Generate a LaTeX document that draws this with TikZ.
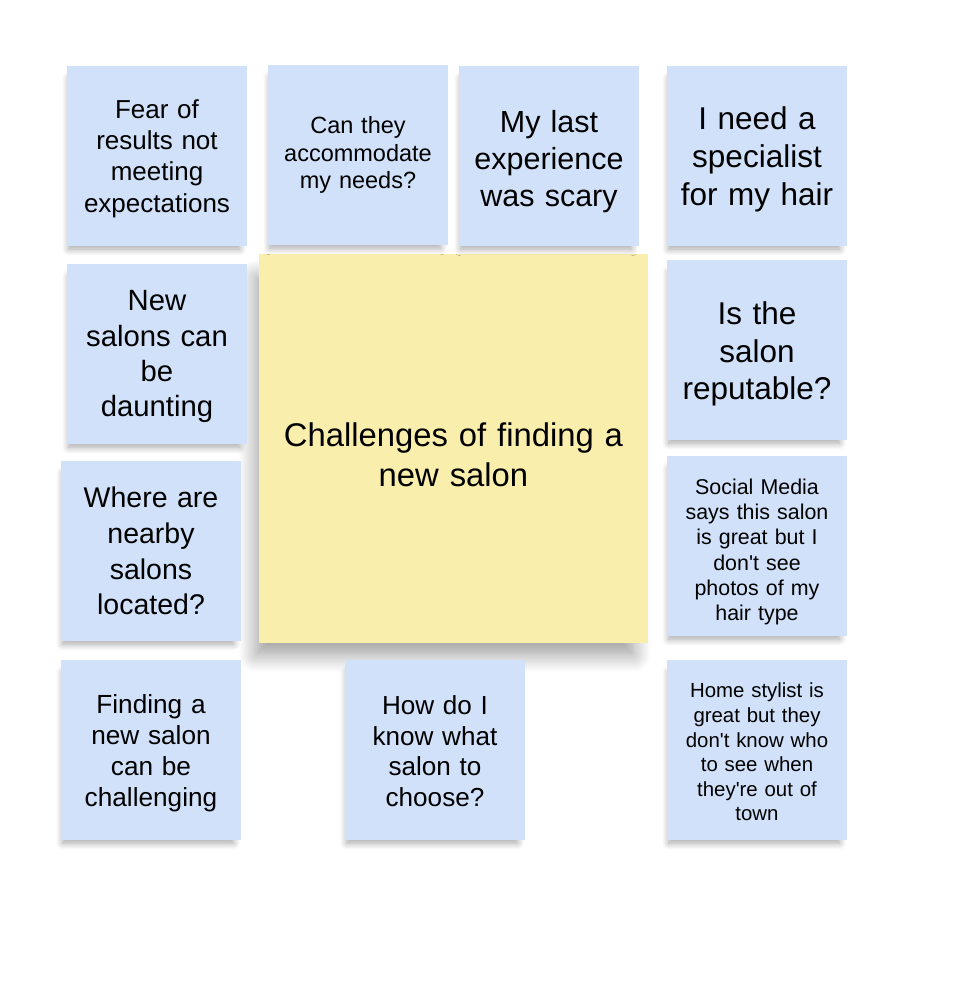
\documentclass[tikz,border=0pt]{standalone}
\usepackage{fontspec}
\setmainfont{Liberation Sans}[Ligatures=TeXOff]
\usetikzlibrary{shadows.blur}
\definecolor{noteblue}{HTML}{D0E1F9}
\definecolor{noteyellow}{HTML}{FAEEAD}
\tikzset{
  note/.style={fill=noteblue, minimum width=180pt, minimum height=180pt,
               text width=176pt, align=center, inner sep=0pt,
               blur shadow={shadow xshift=-3pt, shadow yshift=-8pt,
                            shadow blur radius=7pt, shadow opacity=35,
                            shadow blur steps=10, shadow scale=0.95}},
  topicnote/.style={fill=noteyellow, minimum width=389pt, minimum height=389pt,
               text width=380pt, align=center, inner sep=0pt,
               blur shadow={shadow xshift=-9pt, shadow yshift=-18pt,
                            shadow blur radius=18pt, shadow opacity=40,
                            shadow blur steps=14, shadow scale=0.97}},
  textdrop/.style={execute at begin node={\rule{0pt}{\dimexpr0.73em+#1+#1\relax}}},
}
\newcommand{\fs}[2]{\fontsize{#1}{#2}\selectfont}

\begin{document}
\begin{tikzpicture}[x=1pt, y=-1pt]
    \useasboundingbox (0,0) rectangle (958,984);
    \node[topicnote, textdrop=6pt, font=\fs{32.8}{40}] (topic) at (453.5,448.5) {Challenges of finding a\\new salon};
    \node[note, textdrop=2.5pt, font=\fs{26}{31.3}] (fear) at (157,156) {Fear of\\results not\\meeting\\expectations};
    \node[note, font=\fs{23.5}{27.5}] (accommodate) at (358,155) {Can they\\accommodate\\my needs?};
    \node[note, textdrop=6pt, font=\fs{30.5}{37}] (scary) at (549,156) {My last\\experience\\was scary};
    \node[note, textdrop=3pt, font=\fs{31.5}{38}] (specialist) at (757,156) {I need a\\specialist\\for my hair};
    \node[note, textdrop=2pt, font=\fs{29.3}{35.3}] (daunting) at (157,354) {New\\salons can\\be\\daunting};
    \node[note, textdrop=4pt, font=\fs{31.5}{37.5}] (reputable) at (757,350) {Is the\\salon\\reputable?};
    \node[note, font=\fs{28.5}{35.7}] (nearby) at (151,551) {Where are\\nearby\\salons\\located?};
    \node[note, textdrop=6pt, font=\fs{21.4}{25.2}] (social) at (757,546) {Social Media\\says this salon\\is great but I\\don't see\\photos of my\\hair type};
    \node[note, textdrop=3pt, font=\fs{26.2}{30.8}] (finding) at (151,750) {Finding a\\new salon\\can be\\challenging};
    \node[note, textdrop=1pt, font=\fs{26.1}{30.8}] (choose) at (435,750) {How do I\\know what\\salon to\\choose?};
    \node[note, textdrop=2pt, font=\fs{20.4}{24.6}] (home) at (757,750) {Home stylist is\\great but they\\don't know who\\to see when\\they're out of\\town};
  \end{tikzpicture}
\end{document}
